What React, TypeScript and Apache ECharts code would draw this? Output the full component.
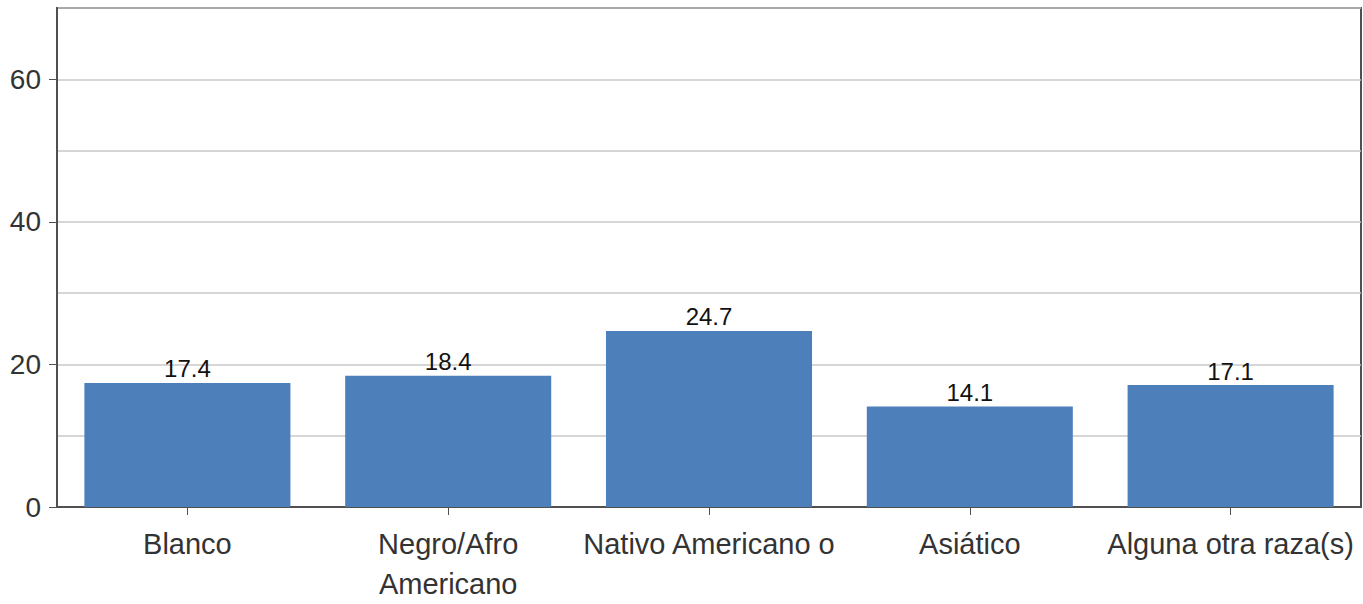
import React, { useEffect, useRef } from "react";
import * as echarts from "echarts";

const categories = ["Blanco", "Negro/Afro\nAmericano", "Nativo Americano o", "Asiático", "Alguna otra raza(s)"];
const values = [17.4, 18.4, 24.7, 14.1, 17.1];
const yTickLabels = [0, 20, 40, 60];

export default function App() {
  const ref = useRef<HTMLDivElement>(null);
  useEffect(() => {
    if (!ref.current) return;
    const chart = echarts.init(ref.current, undefined, { renderer: "svg" });
    const font = "Liberation Sans, Arial, sans-serif";
    chart.setOption({
      animation: false,
      backgroundColor: "#ffffff",
      textStyle: { fontFamily: font },
      grid: {
        left: 57,
        right: 2,
        top: 8,
        bottom: 91,
        containLabel: false,
        show: true,
        borderColor: "#505050",
        borderWidth: 2,
        backgroundColor: "transparent",
      },
      xAxis: {
        type: "category",
        data: categories,
        axisLine: { show: true, lineStyle: { color: "#505050", width: 2 } },
        axisTick: { show: true, alignWithLabel: true, length: 8, lineStyle: { color: "#505050", width: 1 } },
        axisLabel: {
          interval: 0,
          color: "#333333",
          fontSize: 29,
          lineHeight: 40,
          margin: 17,
          fontFamily: font,
        },
        splitLine: { show: false },
      },
      yAxis: [
        {
          type: "value",
          min: 0,
          max: 70,
          interval: 10,
          axisLine: { show: false },
          axisTick: { show: false },
          axisLabel: { show: false },
          splitLine: { show: true, lineStyle: { color: "#c8c8c8", width: 1.5 } },
        },
        {
          type: "value",
          position: "left",
          min: 0,
          max: 70,
          interval: 10,
          axisLine: { show: true, lineStyle: { color: "#505050", width: 2 } },
          axisTick: { show: true, length: 8, customValues: yTickLabels, lineStyle: { color: "#505050", width: 1 } },
          axisLabel: {
            customValues: yTickLabels,
            color: "#333333",
            fontSize: 28,
            margin: 16,
            fontFamily: font,
          },
          splitLine: { show: false },
        },
      ],
      series: [
        {
          type: "bar",
          yAxisIndex: 0,
          data: values,
          barCategoryGap: "21%",
          itemStyle: { color: "#4d7fbb" },
          label: {
            show: true,
            position: "top",
            distance: 2,
            color: "#111111",
            fontSize: 24,
            fontFamily: font,
          },
        },
      ],
    });
    return () => chart.dispose();
  }, []);
  return <div ref={ref} style={{ position: "fixed", left: 0, top: 0, width: 1363, height: 604 }} />;
}
